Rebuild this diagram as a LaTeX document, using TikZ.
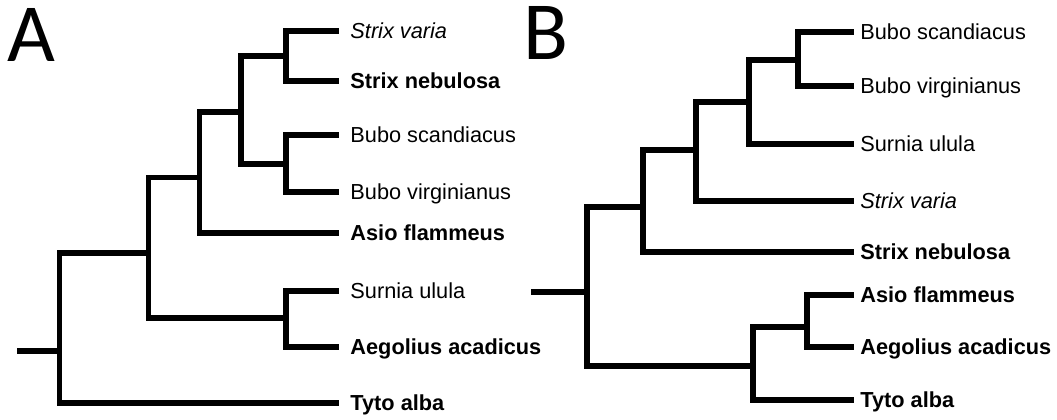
\documentclass[tikz,border=0pt]{standalone}
\usepackage{fontspec}
\setmainfont{Liberation Sans}
\newfontfamily\panelfont{Carlito}
\begin{document}
\begin{tikzpicture}[x=0.75pt,y=-0.75pt,
  branchA/.style={line width=3.9pt,line join=miter,line cap=butt},
  branchB/.style={line width=4.3pt,line join=miter,line cap=butt},
  taxon/.style={anchor=west,inner ysep=0pt,text height=11.67pt,text depth=0pt,
    font=\fontsize{16.3}{18}\selectfont},
  taxonA/.style={taxon,inner xsep=8.4pt},
  taxonB/.style={taxon,inner xsep=4.6pt},
  panel/.style={anchor=base west,inner sep=0pt,text height=39pt,text depth=0pt,
    font=\panelfont\fontsize{62}{62}\selectfont}]
\useasboundingbox (0,0) rectangle (1057,419);

% ---------- Panel A ----------
\node[panel] (labA) at (7,61) {A};

\node[taxonA] (a1) at (339,31)  {\itshape Strix varia};
\node[taxonA] (a2) at (339,81)  {\bfseries Strix nebulosa};
\node[taxonA] (a3) at (339,135) {Bubo scandiacus};
\node[taxonA] (a4) at (339,192) {Bubo virginianus};
\node[taxonA] (a5) at (339,233) {\bfseries Asio flammeus};
\node[taxonA] (a6) at (339,291) {Surnia ulula};
\node[taxonA] (a7) at (339,347) {\bfseries Aegolius acadicus};
\node[taxonA] (a8) at (339,403) {\bfseries Tyto alba};

\coordinate (sA)  at (17,351);
\coordinate (rA)  at (59.5,351);
\coordinate (nA1) at (148.5,253);
\coordinate (nA2) at (199.5,177.5);
\coordinate (nA3) at (241,112);
\coordinate (nA4) at (286,56);
\coordinate (nA5) at (286,164);
\coordinate (nA6) at (286,318);

\begin{scope}[branchA]
  \draw (sA) -- (rA);
  \draw (rA) |- (nA1);
  \draw (rA) |- (a8.west);
  \draw (nA1) |- (nA2);
  \draw (nA1) |- (nA6);
  \draw (nA2) |- (nA3);
  \draw (nA2) |- (a5.west);
  \draw (nA3) |- (nA4);
  \draw (nA3) |- (nA5);
  \draw (nA4) |- (a1.west);
  \draw (nA4) |- (a2.west);
  \draw (nA5) |- (a3.west);
  \draw (nA5) |- (a4.west);
  \draw (nA6) |- (a6.west);
  \draw (nA6) |- (a7.west);
\end{scope}

% ---------- Panel B ----------
\node[panel] (labB) at (523,59) {B};

\node[taxonB] (b1) at (854,32)  {Bubo scandiacus};
\node[taxonB] (b2) at (854,86)  {Bubo virginianus};
\node[taxonB] (b3) at (854,144) {Surnia ulula};
\node[taxonB] (b4) at (854,201) {\itshape Strix varia};
\node[taxonB] (b5) at (854,252) {\bfseries Strix nebulosa};
\node[taxonB] (b6) at (854,295) {\bfseries Asio flammeus};
\node[taxonB] (b7) at (854,347) {\bfseries Aegolius acadicus};
\node[taxonB] (b8) at (854,400) {\bfseries Tyto alba};

\coordinate (sB)  at (531,292);
\coordinate (rB)  at (587,292);
\coordinate (nB1) at (643,207);
\coordinate (nB2) at (696,150);
\coordinate (nB3) at (749,102);
\coordinate (nB4) at (798,60);
\coordinate (nB5) at (753,366);
\coordinate (nB6) at (807,327);

\begin{scope}[branchB]
  \draw (sB) -- (rB);
  \draw (rB) |- (nB1);
  \draw (rB) |- (nB5);
  \draw (nB1) |- (nB2);
  \draw (nB1) |- (b5.west);
  \draw (nB2) |- (nB3);
  \draw (nB2) |- (b4.west);
  \draw (nB3) |- (nB4);
  \draw (nB3) |- (b3.west);
  \draw (nB4) |- (b1.west);
  \draw (nB4) |- (b2.west);
  \draw (nB5) |- (nB6);
  \draw (nB5) |- (b8.west);
  \draw (nB6) |- (b6.west);
  \draw (nB6) |- (b7.west);
\end{scope}
\end{tikzpicture}
\end{document}
